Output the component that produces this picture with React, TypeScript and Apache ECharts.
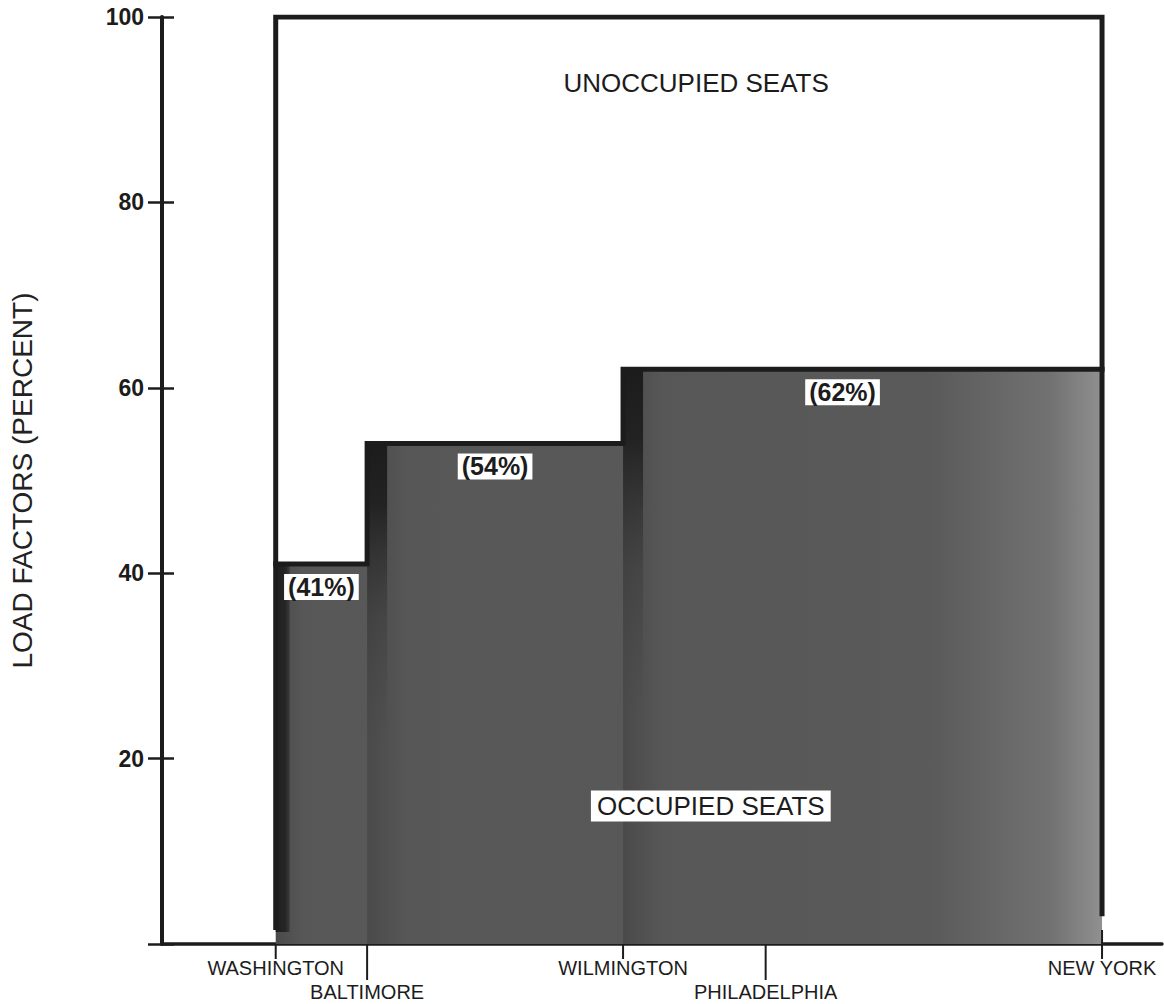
import React, { useEffect, useRef } from "react";
import * as echarts from "echarts";

// ---- data ----
const stationNames = ["WASHINGTON", "BALTIMORE", "WILMINGTON", "PHILADELPHIA", "NEW YORK"];
const stationMiles = [0, 25, 95, 134, 226];
const stationLabelRow = [0, 1, 0, 1, 0];

const segmentFrom = ["WASHINGTON", "BALTIMORE", "WILMINGTON"];
const segmentTo = ["BALTIMORE", "WILMINGTON", "NEW YORK"];
const loadFactors = [41, 54, 62];
const loadLabels = ["(41%)", "(54%)", "(62%)"];

const capacity = 100;
const yTickStep = 20;
const areaNames = ["UNOCCUPIED SEATS", "OCCUPIED SEATS"];

const FONT = '"Liberation Sans", Arial, Helvetica, sans-serif';
const INK = "#1c1c1c";

const milesOf = (name: string) => stationMiles[stationNames.indexOf(name)];

export default function App() {
  const ref = useRef<HTMLDivElement>(null);

  useEffect(() => {
    if (!ref.current) return;
    const chart = echarts.init(ref.current, undefined, { renderer: "svg" });

    const segData = loadFactors.map((v, i) => [milesOf(segmentFrom[i]), milesOf(segmentTo[i]), v, i]);
    const stepLine: number[][] = [];
    loadFactors.forEach((v, i) => {
      stepLine.push([milesOf(segmentFrom[i]), v]);
      stepLine.push([milesOf(segmentTo[i]), v]);
    });
    const first = stationMiles[0];
    const last = stationMiles[stationMiles.length - 1];
    const boxLine = [
      [first, 1.5],
      [first, capacity],
      [last, capacity],
      [last, 3],
    ];
    const labelShiftX = [0, 0, -20];
    const labelData = loadFactors.map((v, i) => ({
      value: [(milesOf(segmentFrom[i]) + milesOf(segmentTo[i])) / 2, v],
      label: { offset: [labelShiftX[i], 23] },
    }));

    const tickStyle = { color: INK, width: 2.5 };

    const option: any = {
      animation: false,
      backgroundColor: "#ffffff",
      grid: { left: 160, right: 2, top: 17, bottom: 60, containLabel: false },
      xAxis: {
        type: "value",
        min: -31.1,
        max: 242.4,
        axisLine: { show: true, onZero: false, lineStyle: { color: INK, width: 3.5 } },
        axisTick: { show: false },
        axisLabel: { show: false },
        splitLine: { show: false },
      },
      yAxis: [
        {
          type: "value",
          min: 0,
          max: capacity,
          interval: yTickStep,
          position: "left",
          offset: 0,
          name: "LOAD FACTORS (PERCENT)",
          nameLocation: "middle",
          nameGap: 126,
          nameRotate: 90,
          nameTextStyle: { fontSize: 28, color: "#222", fontFamily: FONT },
          axisLine: { show: true, onZero: false, lineStyle: { color: INK, width: 4 } },
          axisTick: { show: true, inside: false, length: 14, lineStyle: tickStyle },
          axisLabel: {
            fontSize: 23,
            fontWeight: "bold",
            color: INK,
            fontFamily: FONT,
            margin: 18,
            formatter: (v: number) => (v === 0 ? "" : String(v)),
          },
          splitLine: { show: false },
        },
        {
          type: "value",
          min: 0,
          max: capacity,
          interval: yTickStep,
          position: "left",
          offset: 0,
          axisLine: { show: false, onZero: false },
          axisTick: { show: true, inside: true, length: 12, lineStyle: tickStyle },
          axisLabel: { show: false },
          splitLine: { show: false },
        },
      ],
      series: [
        {
          type: "custom",
          z: 1,
          data: segData,
          encode: { x: [0, 1], y: 2 },
          renderItem: (params: any, api: any) => {
            const x0 = api.value(0);
            const x1 = api.value(1);
            const v = api.value(2);
            const idx = api.value(3);
            const pTop = api.coord([x0, v]);
            const pBot = api.coord([x1, 0]);
            const isLast = idx === loadFactors.length - 1;
            const w = pBot[0] - pTop[0] + (isLast ? 0 : 2);
            const h = pBot[1] - pTop[1];
            const stops: any[] = [
              { offset: 0, color: "#4a4a4a" },
              { offset: Math.min(0.3, 40 / w), color: "#575757" },
            ];
            if (isLast) {
              stops.push({ offset: 1 - 170 / w, color: "#5a5a5a" });
              stops.push({ offset: 1 - 50 / w, color: "#727272" });
              stops.push({ offset: 1, color: "#909090" });
            } else {
              stops.push({ offset: 1, color: "#585858" });
            }
            const bandW = idx === 0 ? 14 : 20;
            const bandFill =
              idx === 0
                ? new echarts.graphic.LinearGradient(0, 0, 1, 0, [
                    { offset: 0, color: "#1e1e1e" },
                    { offset: 0.7, color: "#262626" },
                    { offset: 1, color: "rgba(40,40,40,0.5)" },
                  ])
                : new echarts.graphic.LinearGradient(0, 0, 0, 1, [
                    { offset: 0, color: "rgba(28,28,28,1)" },
                    { offset: 0.12, color: "rgba(32,32,32,0.95)" },
                    { offset: 0.35, color: "rgba(50,50,50,0.35)" },
                    { offset: 0.6, color: "rgba(60,60,60,0)" },
                  ]);
            return {
              type: "group",
              children: [
                {
                  type: "rect",
                  shape: { x: pTop[0], y: pTop[1], width: w, height: h },
                  style: {
                    fill: new echarts.graphic.LinearGradient(pTop[0], 0, pTop[0] + w, 0, stops, true),
                  },
                },
                {
                  type: "rect",
                  shape: { x: pTop[0], y: pTop[1], width: bandW, height: h - (idx === 0 ? 12 : 0) },
                  style: { fill: bandFill },
                },
              ],
            };
          },
        },
        {
          type: "line",
          z: 3,
          data: stepLine,
          symbol: "none",
          lineStyle: { color: INK, width: 5, join: "miter", cap: "square" },
        },
        {
          type: "line",
          z: 3,
          data: boxLine,
          symbol: "none",
          lineStyle: { color: INK, width: 5, join: "miter", cap: "butt" },
        },
        {
          type: "custom",
          z: 4,
          clip: false,
          data: stationMiles.map((m, i) => [m, i]),
          encode: { x: 0, y: 1 },
          renderItem: (params: any, api: any) => {
            const i = api.value(1);
            const p = api.coord([api.value(0), 0]);
            const row = stationLabelRow[i];
            const isLast = i === stationMiles.length - 1;
            return {
              type: "group",
              children: [
                {
                  type: "line",
                  shape: {
                    x1: p[0],
                    y1: p[1] - (isLast ? 14 : 0),
                    x2: p[0],
                    y2: p[1] + (row ? 36 : 15),
                  },
                  style: { stroke: INK, lineWidth: 2 },
                },
                {
                  type: "text",
                  x: p[0],
                  y: p[1] + 24 + row * 24,
                  style: {
                    text: stationNames[i],
                    fill: INK,
                    fontSize: 20,
                    fontFamily: FONT,
                    align: "center",
                    verticalAlign: "middle",
                  },
                },
              ],
            };
          },
        },
        {
          type: "scatter",
          z: 5,
          symbolSize: 0,
          itemStyle: { opacity: 1 },
          emphasis: { disabled: true },
          data: labelData,
          label: {
            show: true,
            position: "inside",
            formatter: (p: any) => loadLabels[p.dataIndex],
            fontSize: 25,
            fontWeight: "bold",
            fontFamily: FONT,
            color: INK,
            opacity: 1,
            backgroundColor: "#ffffff",
            padding: [1, 4, 0, 4],
          },
        },
        {
          type: "scatter",
          z: 5,
          symbolSize: 0,
          itemStyle: { opacity: 1 },
          emphasis: { disabled: true },
          data: [
            {
              value: [115, 92.9],
              label: { formatter: areaNames[0] },
            },
            {
              value: [119, 14.9],
              label: {
                formatter: areaNames[1],
                backgroundColor: "#ffffff",
                padding: [3, 6, 2, 6],
              },
            },
          ],
          label: {
            show: true,
            position: "inside",
            fontSize: 26,
            fontFamily: FONT,
            color: INK,
            opacity: 1,
          },
        },
      ],
    };

    chart.setOption(option);
    return () => chart.dispose();
  }, []);

  return (
    <div
      ref={ref}
      style={{ position: "fixed", left: 0, top: 0, width: 1164, height: 1004, background: "#fff" }}
    />
  );
}
